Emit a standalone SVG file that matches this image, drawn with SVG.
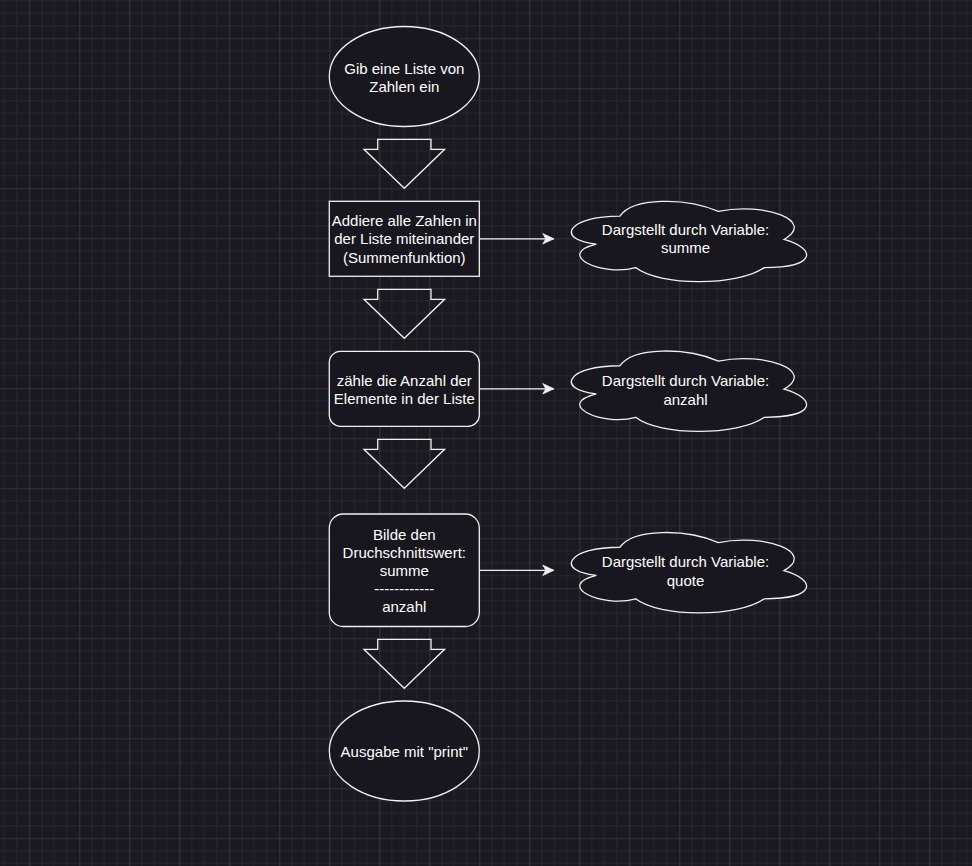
<svg xmlns="http://www.w3.org/2000/svg" xmlns:xlink="http://www.w3.org/1999/xlink" width="972" height="866" viewBox="0 0 972 866">
<style>
.shape{fill:#18161e;stroke:#f0f0f0;stroke-width:1.3}
.barrow{fill:none;stroke:#f0f0f0;stroke-width:1.3}
.conn{fill:none;stroke:#f0f0f0;stroke-width:1.3}
text{font-family:"Liberation Sans",Arial,Helvetica,sans-serif;font-size:15px;fill:#ffffff;text-anchor:middle;dominant-baseline:central}
</style>
<defs>
<pattern id="grid" patternUnits="userSpaceOnUse" x="29.3" y="38.3" width="50" height="50">
<path d="M12.5,0V50M25,0V50M37.5,0V50M0,12.5H50M0,25H50M0,37.5H50" stroke="#27252e" stroke-width="1" fill="none"/>
<path d="M0,0V50M0,0H50" stroke="#4a484f" stroke-width="1.2" fill="none"/>
</pattern>
<path id="blockArrow" class="barrow" d="M377.7,0 L431,0 L431,10 L444.6,10 L404.3,49 L364,10 L377.7,10 Z"/>
<path id="cloud" class="shape" d="M65.625,23.4375 C13.125,23.4375 0,46.875 42,51.5625 C0,61.875 47.25,84.375 81.375,75 C105,93.75 183.75,93.75 210,75 C262.5,75 262.5,56.25 229.6875,46.875 C262.5,28.125 210,9.375 164.0625,18.75 C131.25,4.6875 78.75,4.6875 65.625,23.4375 Z"/>
<marker id="arrowEnd" markerUnits="userSpaceOnUse" markerWidth="14" markerHeight="12" viewBox="0 0 14 12" refX="11.5" refY="6" orient="auto">
<path d="M0.5,0.8 L11.5,6 L0.5,11.2 L3.5,6 Z" fill="#f0f0f0" stroke="#f0f0f0" stroke-width="0.8" stroke-linejoin="miter"/>
</marker>
</defs>
<rect width="972" height="866" fill="#1a1820"/>
<rect width="972" height="866" fill="url(#grid)"/>

<g id="connectors">
<use xlink:href="#blockArrow" transform="translate(0,139.3)"/>
<use xlink:href="#blockArrow" transform="translate(0,289.3)"/>
<use xlink:href="#blockArrow" transform="translate(0,439.3)"/>
<use xlink:href="#blockArrow" transform="translate(0,639.3)"/>
<path class="conn" d="M479.3,238.8 H553.8" marker-end="url(#arrowEnd)"/>
<path class="conn" d="M479.3,388.8 H553.8" marker-end="url(#arrowEnd)"/>
<path class="conn" d="M479.3,570.3 H553.8" marker-end="url(#arrowEnd)"/>
</g>

<g id="start">
<ellipse class="shape" cx="404.3" cy="76.5" rx="75" ry="50"/>
<text x="404.3" y="68">Gib eine Liste von</text>
<text x="404.3" y="86.5">Zahlen ein</text>
</g>

<g id="addiere">
<rect class="shape" x="329.3" y="201.3" width="150" height="75"/>
<text x="404.3" y="220">Addiere alle Zahlen in</text>
<text x="404.3" y="238.7">der Liste miteinander</text>
<text x="404.3" y="257.3">(Summenfunktion)</text>
</g>

<g id="summe">
<use xlink:href="#cloud" transform="translate(554.3,192.6)"/>
<text x="685.5" y="229">Dargstellt durch Variable:</text>
<text x="685.5" y="247.5">summe</text>
</g>

<g id="zaehle">
<rect class="shape" x="329.3" y="351.3" width="150" height="75" rx="11.25" ry="11.25"/>
<text x="404.3" y="380">zähle die Anzahl der</text>
<text x="404.3" y="398.5">Elemente in der Liste</text>
</g>

<g id="anzahl">
<use xlink:href="#cloud" transform="translate(554.3,342.3)"/>
<text x="685.5" y="380.5">Dargstellt durch Variable:</text>
<text x="685.5" y="399">anzahl</text>
</g>

<g id="durchschnitt">
<rect class="shape" x="329.3" y="514" width="150" height="112.5" rx="14" ry="14"/>
<text x="404.3" y="534.3">Bilde den</text>
<text x="404.3" y="552">Druchschnittswert:</text>
<text x="404.3" y="570">summe</text>
<text x="404.3" y="588.3">------------</text>
<text x="404.3" y="606">anzahl</text>
</g>

<g id="quote">
<use xlink:href="#cloud" transform="translate(554.3,523.8)"/>
<text x="685.5" y="561.5">Dargstellt durch Variable:</text>
<text x="685.5" y="580">quote</text>
</g>

<g id="ausgabe">
<ellipse class="shape" cx="404.3" cy="751" rx="75" ry="50"/>
<text x="404.3" y="751.5">Ausgabe mit "print"</text>
</g>
</svg>
